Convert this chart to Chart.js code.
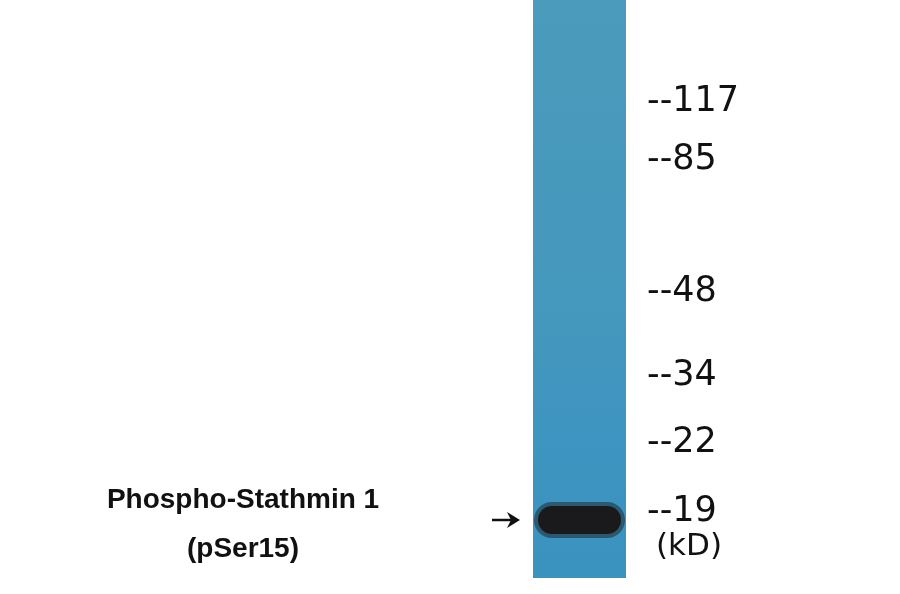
<!DOCTYPE html>
<html>
<head>
<meta charset="utf-8">
<script src="https://cdn.jsdelivr.net/npm/chart.js@4/dist/chart.umd.min.js"></script>
<style>
  html, body { margin: 0; padding: 0; background: #fff; }
  #wrap { width: 900px; height: 594px; }
</style>
</head>
<body>
<div id="wrap"><canvas id="blot"></canvas></div>
<script>
// marker ladder (kD) and where each one sits on the membrane (px from top)
const markerLabels = ['117', '85', '48', '34', '22', '19'];
const markerRows = [102, 160, 292, 376, 443, 512];
// lane outline and the detected band
const laneX = [533, 626];
const laneY = [0, 578];
const bandX = [552, 607];
const bandY = 520;
const proteinName = ['Phospho-Stathmin 1', '(pSer15)'];

const lanePoints = [
    { x: laneX[0], y: laneY[0] }, { x: laneX[1], y: laneY[0] },
    { x: laneX[1], y: laneY[1] }, { x: laneX[0], y: laneY[1] },
    { x: laneX[0], y: laneY[0] }
];

const labelsPlugin = {
    id: 'blotLabels',
    afterDraw(chart) {
        const ctx = chart.ctx;
        const xs = chart.scales.x, ys = chart.scales.y;
        ctx.save();
        ctx.fillStyle = '#111';
        ctx.textBaseline = 'middle';
        ctx.font = '35px "DejaVu Sans", sans-serif';
        ctx.textAlign = 'left';
        markerLabels.forEach((m, i) => {
            ctx.fillText('--' + m, xs.getPixelForValue(647), ys.getPixelForValue(markerRows[i]));
        });
        ctx.font = '31px "DejaVu Sans", sans-serif';
        ctx.fillText('(kD)', xs.getPixelForValue(656), ys.getPixelForValue(547));

        ctx.font = 'bold 28px "Liberation Sans", Arial, sans-serif';
        ctx.textAlign = 'center';
        ctx.fillText(proteinName[0], xs.getPixelForValue(243), ys.getPixelForValue(500));
        ctx.fillText(proteinName[1], xs.getPixelForValue(243), ys.getPixelForValue(549));

        // arrow pointing at the band
        const ay = ys.getPixelForValue(bandY);
        const x0 = xs.getPixelForValue(492), x1 = xs.getPixelForValue(520);
        ctx.strokeStyle = '#111';
        ctx.lineWidth = 2.5;
        ctx.beginPath();
        ctx.moveTo(x0, ay); ctx.lineTo(x1 - 6, ay);
        ctx.stroke();
        ctx.beginPath();
        ctx.moveTo(x1, ay); ctx.lineTo(x1 - 13, ay - 8); ctx.lineTo(x1 - 9, ay); ctx.lineTo(x1 - 13, ay + 8);
        ctx.closePath();
        ctx.fill();
        ctx.restore();
    }
};

new Chart(document.getElementById('blot'), {
    type: 'scatter',
    data: {
        datasets: [
            {
                label: 'lane',
                order: 3,
                data: lanePoints,
                showLine: true,
                fill: 'shape',
                borderWidth: 0,
                pointRadius: 0,
                tension: 0,
                backgroundColor: (c) => {
                    const area = c.chart.chartArea;
                    if (!area) return '#3f98ba';
                    const g = c.chart.ctx.createLinearGradient(0, area.top, 0, area.bottom);
                    g.addColorStop(0, '#4b9bbb');
                    g.addColorStop(0.5, '#4598bd');
                    g.addColorStop(0.72, '#3e95c0');
                    g.addColorStop(1, '#3a92bf');
                    return g;
                }
            },
            {
                label: 'band halo',
                order: 2,
                data: [{ x: bandX[0], y: bandY }, { x: bandX[1], y: bandY }],
                showLine: true,
                borderColor: 'rgba(30,50,60,0.6)',
                borderWidth: 36,
                borderCapStyle: 'round',
                pointRadius: 0
            },
            {
                label: 'band',
                order: 1,
                data: [{ x: bandX[0], y: bandY }, { x: bandX[1], y: bandY }],
                showLine: true,
                borderColor: '#1a1a1c',
                borderWidth: 28,
                borderCapStyle: 'round',
                pointRadius: 0
            }
        ]
    },
    options: {
        responsive: true,
        maintainAspectRatio: false,
        animation: false,
        layout: { padding: 0 },
        plugins: { legend: { display: false }, tooltip: { enabled: false } },
        scales: {
            x: { type: 'linear', min: 0, max: 900, display: false },
            y: { type: 'linear', min: 0, max: 594, reverse: true, display: false }
        }
    },
    plugins: [labelsPlugin]
});
</script>
</body>
</html>
